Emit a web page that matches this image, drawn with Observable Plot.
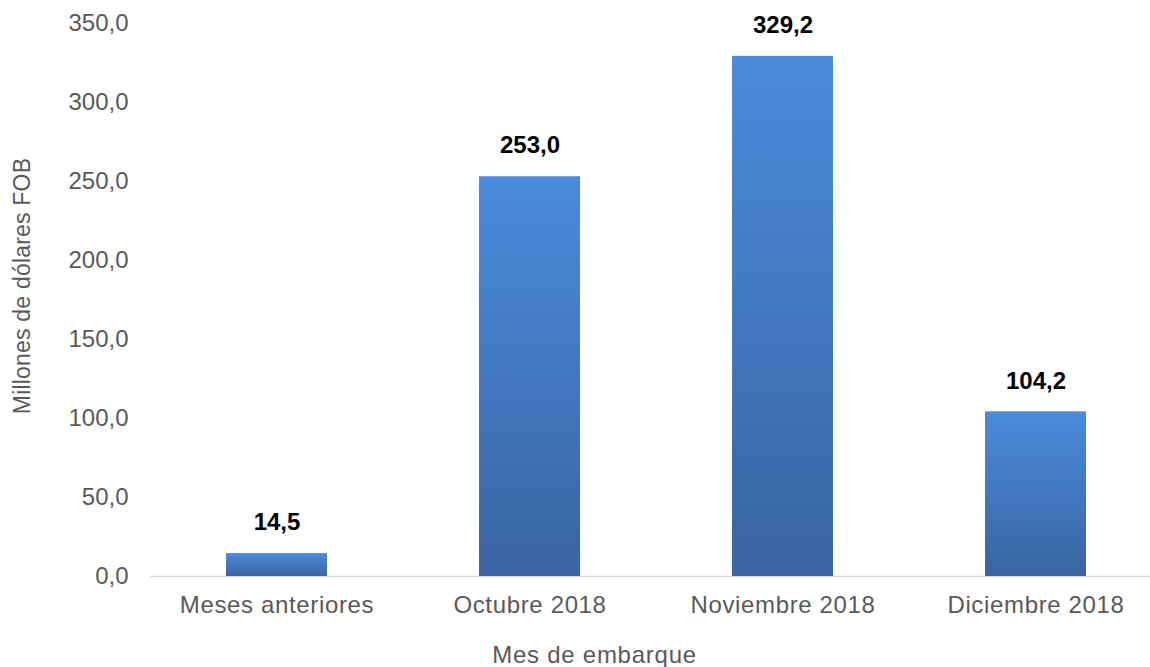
<!DOCTYPE html>
<html><head><meta charset="utf-8">
<script src="https://cdn.jsdelivr.net/npm/d3@7"></script>
<script src="https://cdn.jsdelivr.net/npm/@observablehq/plot@0.6"></script>
<style>body{margin:0;background:#fff;font-family:"Liberation Sans",Arial,sans-serif}</style>
</head><body><div id="chart"></div>
<script>
const categories = ["Meses anteriores", "Octubre 2018", "Noviembre 2018", "Diciembre 2018"];
const values = [14.5, 253.0, 329.2, 104.2];
const yTicks = [0, 50, 100, 150, 200, 250, 300, 350];
const yTitle = "Millones de dólares FOB";
const xTitle = "Mes de embarque";
const data = categories.map((c, i) => ({mes: c, valor: values[i]}));
const fmt = v => d3.format(".1f")(v).replace(".", ",");

const chart = Plot.plot({
  width: 1150, height: 667,
  marginTop: 23, marginBottom: 91, marginLeft: 150, marginRight: 0,
  style: {fontFamily: '"Liberation Sans", Arial, sans-serif', fontSize: "24px", color: "#595959", background: "#fff", overflow: "visible"},
  x: {domain: categories, range: [150, 1163], paddingInner: 0.6, paddingOuter: 0.3},
  y: {domain: [0, 350]},
  marks: [
    Plot.ruleY([0], {stroke: "#d9d9d9", strokeWidth: 1.5}),
    Plot.axisY({ticks: yTicks, tickFormat: fmt, tickSize: 0, tickPadding: 22, label: null, fill: "#595959", fontSize: 24}),
    Plot.axisX({tickSize: 0, tickPadding: 19, label: null, fill: "#595959", fontSize: 24}),
    Plot.barY(data, {x: "mes", y: "valor", fill: "url(#barGrad)"}),
    Plot.text(data, {x: "mes", y: "valor", text: d => fmt(d.valor), dy: -31, fontWeight: "bold", fontSize: 24, fill: "#000"}),
    Plot.text([yTitle], {frameAnchor: "left", textAnchor: "middle", rotate: -90, dx: -128, dy: -14, fontSize: 23, fill: "#595959"}),
    Plot.text([xTitle], {frameAnchor: "bottom", textAnchor: "middle", dx: -56, dy: 86, fontSize: 24, fill: "#595959"})
  ]
});
const svg = d3.select(chart);
svg.selectAll('g[aria-label="x-axis tick label"] text').style("letter-spacing", "0.65px");
const textGroups = svg.selectAll('g[aria-label="text"]').nodes();
if (textGroups.length >= 3) {
  d3.select(textGroups[1]).selectAll("text").style("letter-spacing", "0.2px");
  d3.select(textGroups[2]).selectAll("text").style("letter-spacing", "0.75px");
}
const defs = svg.insert("defs", ":first-child");
const g = defs.append("linearGradient").attr("id", "barGrad").attr("x1", 0).attr("y1", 0).attr("x2", 0).attr("y2", 1);
g.append("stop").attr("offset", "0%").attr("stop-color", "#4a8bdb");
g.append("stop").attr("offset", "100%").attr("stop-color", "#3a64a2");
document.getElementById("chart").appendChild(chart);
</script></body></html>
